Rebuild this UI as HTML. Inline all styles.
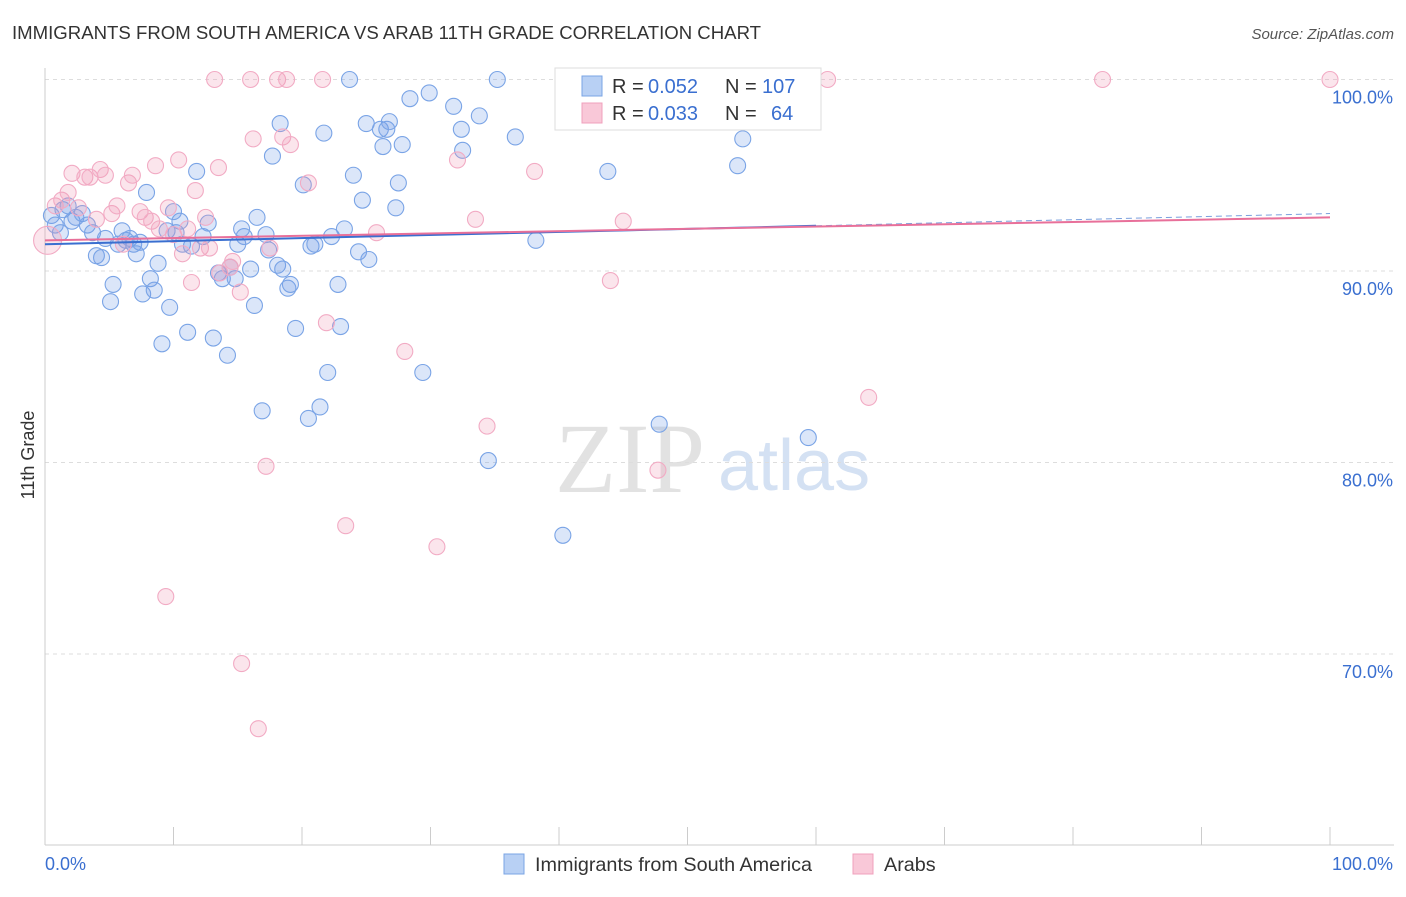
<!DOCTYPE html>
<html><head><meta charset="utf-8"><style>
body{margin:0;background:#fff;font-family:"Liberation Sans",sans-serif;}
#wrap{position:relative;width:1406px;height:892px;}
</style></head><body>
<div id="wrap">
<svg id="svg" width="1406" height="892" xmlns="http://www.w3.org/2000/svg">
<text x="12" y="39" font-size="18.6" fill="#333">IMMIGRANTS FROM SOUTH AMERICA VS ARAB 11TH GRADE CORRELATION CHART</text>
<text x="1394" y="39" font-size="15" fill="#555" font-style="italic" text-anchor="end">Source: ZipAtlas.com</text>
<text x="34" y="455" font-size="18" fill="#333" text-anchor="middle" transform="rotate(-90 34 455)">11th Grade</text>
<text x="555" y="492" font-size="100" fill="#e2e2e2" font-family="Liberation Serif">ZIP</text>
<text x="718" y="490" font-size="72" fill="#d4e1f3">atlas</text>
<g id="grid"></g><g id="pts"></g><g id="lines"></g>
<g font-size="20">
<rect x="555" y="68" width="266" height="62" fill="#fff" stroke="#ddd"/>
<rect x="582" y="76" width="20" height="20" fill="#b8d0f4" stroke="#7aa4e4"/>
<text x="612" y="93" fill="#333">R =</text><text x="648" y="93" fill="#3a6fd0">0.052</text>
<text x="725" y="93" fill="#333">N =</text><text x="762" y="93" fill="#3a6fd0">107</text>
<rect x="582" y="103" width="20" height="20" fill="#f9c8d8" stroke="#f0a0bc"/>
<text x="612" y="120" fill="#333">R =</text><text x="648" y="120" fill="#3a6fd0">0.033</text>
<text x="725" y="120" fill="#333">N =</text><text x="771" y="120" fill="#3a6fd0">64</text>
</g>
<g>
<rect x="504" y="854" width="20" height="20" fill="#b8d0f4" stroke="#7aa4e4"/>
<text x="535" y="871" font-size="19.8" fill="#333">Immigrants from South America</text>
<rect x="853" y="854" width="20" height="20" fill="#f9c8d8" stroke="#f0a0bc"/>
<text x="884" y="871" font-size="19.8" fill="#333">Arabs</text>
</g>
</svg></div>
<script>
const yTicks=[100,90,80,70];
const yTickLabels=["100.0%","90.0%","80.0%","70.0%"];
const blueX=[0.5,0.8,1.2,1.4,1.8,2.1,2.4,2.9,3.3,3.7,4.0,4.4,4.7,5.1,5.3,5.7,6.0,6.3,6.6,6.9,7.1,7.4,7.6,7.9,8.2,8.5,8.8,9.1,9.5,9.7,10.0,10.2,10.5,10.7,11.1,11.4,11.8,12.3,12.7,13.1,13.5,13.8,14.2,14.4,14.8,15.0,15.3,15.5,16.0,16.3,16.5,16.9,17.2,17.4,17.7,18.1,18.3,18.5,18.9,19.1,19.5,20.1,20.5,20.7,21.0,21.4,21.7,22.0,22.3,22.8,23.0,23.3,23.7,24.0,24.4,24.7,25.0,25.2,26.1,26.3,26.6,26.8,27.3,27.5,27.8,28.4,29.4,29.9,31.8,32.4,32.5,33.8,34.5,35.2,36.6,38.2,40.3,43.8,47.8,53.9,54.3,59.4];
const blueY=[92.9,92.4,92.0,93.2,93.4,92.6,92.8,93.0,92.4,92.0,90.8,90.7,91.7,88.4,89.3,91.4,92.1,91.6,91.7,91.4,90.9,91.5,88.8,94.1,89.6,89.0,90.4,86.2,92.1,88.1,93.1,92.0,92.6,91.4,86.8,91.3,95.2,91.8,92.5,86.5,89.9,89.6,85.6,90.2,89.6,91.4,92.2,91.8,90.1,88.2,92.8,82.7,91.9,91.1,96.0,90.3,97.7,90.1,89.1,89.3,87.0,94.5,82.3,91.3,91.4,82.9,97.2,84.7,91.8,89.3,87.1,92.2,100.0,95.0,91.0,93.7,97.7,90.6,97.4,96.5,97.4,97.8,93.3,94.6,96.6,99.0,84.7,99.3,98.6,97.4,96.3,98.1,80.1,100.0,97.0,91.6,76.2,95.2,82.0,95.5,96.9,81.3];
const pinkX=[0.2,0.8,1.3,1.8,2.1,2.6,3.1,3.5,4.0,4.3,4.7,5.2,5.6,6.1,6.5,6.8,7.4,7.8,8.3,8.6,8.9,9.6,10.0,10.4,10.7,11.1,11.4,11.7,12.1,12.5,12.8,13.2,13.5,13.6,14.4,14.6,15.2,16.0,16.2,16.6,17.2,17.5,18.1,18.5,18.8,19.1,20.5,21.6,21.9,23.4,25.8,28.0,30.5,32.1,33.5,34.4,38.1,44.0,45.0,47.7,60.9,64.1,82.3,100.0,9.4,15.3];
const pinkY=[91.6,93.4,93.7,94.1,95.1,93.3,94.9,94.9,92.7,95.3,95.0,93.0,93.4,91.4,94.6,95.0,93.1,92.8,92.6,95.5,92.2,93.3,91.9,95.8,90.9,92.2,89.4,94.2,91.2,92.8,91.2,100.0,95.4,89.9,90.2,90.5,88.9,100.0,96.9,66.1,79.8,91.2,100.0,97.0,100.0,96.6,94.6,100.0,87.3,76.7,92.0,85.8,75.6,95.8,92.7,81.9,95.2,89.5,92.6,79.6,100.0,83.4,100.0,100.0,73.0,69.5];
const blueTrend=[91.4,93.0];
const pinkTrend=[91.6,92.8];
const NS="http://www.w3.org/2000/svg";
const X=v=>45+v*12.85, Y=v=>79.5+(100-v)*19.15;
function mk(tag,attrs,parent){const e=document.createElementNS(NS,tag);for(const k in attrs)e.setAttribute(k,attrs[k]);parent.appendChild(e);return e;}
const grid=document.getElementById('grid');
yTicks.forEach((t,i)=>{
 const l=mk('line',{x1:45,x2:1394,y1:Y(t),y2:Y(t),stroke:'#ddd','stroke-dasharray':'4,4'},grid);
 
 
 const tx=mk('text',{x:1393,y:Y(t)+24,'font-size':18,fill:'#3a6fd0','text-anchor':'end'},grid);
 tx.textContent=yTickLabels[i];
 
 
});
const ax=mk('line',{x1:45,x2:45,y1:68,y2:845,stroke:'#ccc'},grid);


const bx=mk('line',{x1:45,x2:1394,y1:845,y2:845,stroke:'#ccc'},grid);


for(let i=0;i<=10;i++){const t=mk('line',{x1:X(i*10),x2:X(i*10),y1:827,y2:845,stroke:'#ccc'},grid);
 
 }
[['0.0%',45,'start'],['100.0%',1393,'end']].forEach(a=>{const t=mk('text',{x:a[1],y:870,'font-size':18,fill:'#3a6fd0','text-anchor':a[2]},grid);t.textContent=a[0];
 
 });
const pts=document.getElementById('pts');
blueX.forEach((x,i)=>{const c=mk('circle',{cx:X(x),cy:Y(blueY[i]),r:8,fill:'rgba(110,155,230,0.25)',stroke:'#7aa4e6','stroke-width':1.1},pts);
 
 });
pinkX.forEach((x,i)=>{const c=mk('circle',{cx:X(x),cy:Y(pinkY[i]),r:i===0?14:8,fill:'rgba(240,150,180,0.25)',stroke:'#f2abc4','stroke-width':1.1},pts);
 
 });
const lines=document.getElementById('lines');
const bAt=x=>blueTrend[0]+(blueTrend[1]-blueTrend[0])*x/100;
let l1=mk('line',{x1:X(0),y1:Y(bAt(0)),x2:X(60),y2:Y(bAt(60)),stroke:'#3a6fd0','stroke-width':2},lines);


let l2=mk('line',{x1:X(60),y1:Y(bAt(60)),x2:X(100),y2:Y(bAt(100)),stroke:'#7aa0dd','stroke-width':1,'stroke-dasharray':'6,4'},lines);


let l3=mk('line',{x1:X(0),y1:Y(pinkTrend[0]),x2:X(100),y2:Y(pinkTrend[1]),stroke:'#e8709a','stroke-width':2},lines);


</script>
</body></html>
